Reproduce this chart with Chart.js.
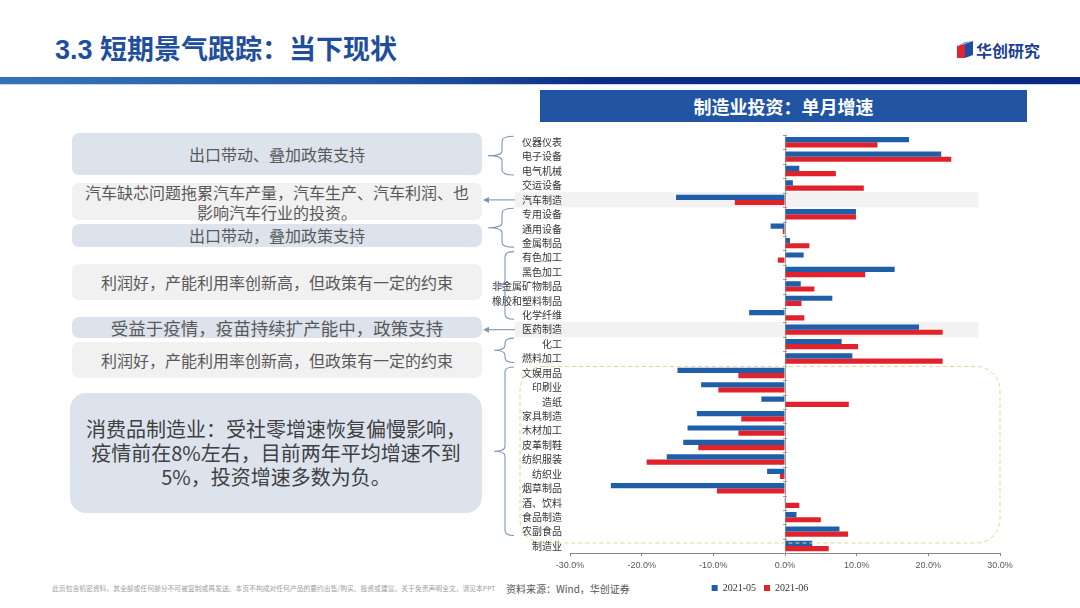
<!DOCTYPE html>
<html>
<head>
<meta charset="utf-8">
<script src="https://cdn.jsdelivr.net/npm/chart.js@4.4.1/dist/chart.umd.min.js"></script>
<style>
  html,body{margin:0;padding:0;background:#fff;}
  body{width:1080px;height:608px;position:relative;overflow:hidden;font-family:"Noto Sans CJK SC","Noto Sans",sans-serif;}
  .abs{position:absolute;}
  #title{left:55px;top:34px;font-size:27px;line-height:32px;font-weight:bold;color:#1f4e9c;font-family:"Liberation Sans","Noto Sans CJK SC",sans-serif;}
  #bar{left:0;top:77px;width:1080px;height:7px;background:linear-gradient(to right,#3373b9 0%,#2459a6 35%,#0c2d86 55%,#0a2a84 100%);}
  #bar2{left:0;top:84px;width:1080px;height:1px;background:#c9d7ea;}
  #logo{left:957px;top:40px;height:20px;}
  #logoText{left:976px;top:39px;font-size:16px;line-height:22px;font-weight:bold;color:#1d3f92;}
  #ctitle{left:540px;top:90px;width:487px;height:32px;background:#2155a3;color:#fff;font-size:18px;font-weight:bold;line-height:32px;text-align:center;}
  .box{position:absolute;left:72px;width:410px;display:flex;flex-direction:column;align-items:center;justify-content:center;text-align:center;color:#595959;font-size:16px;line-height:19px;border-radius:7px;}
  .box span{display:block;white-space:nowrap;}
  .bl{background:#dce3ed;}
  .gr{background:#f1f1f1;}
  #big{left:70px;top:393px;width:412px;height:120px;border-radius:16px;font-size:20px;line-height:24px;color:#404040;}
  #disc{left:52px;top:584px;font-size:6.8px;line-height:8px;color:#a0a0a0;white-space:nowrap;}
  #src{left:506px;top:582px;font-size:10px;line-height:14px;color:#555;white-space:nowrap;}
  #chartWrap{position:absolute;left:470px;top:128px;width:580px;height:480px;}
</style>
</head>
<body>
<div id="title" class="abs">3.3 短期景气跟踪：当下现状</div>
<div id="bar" class="abs"></div>
<div id="bar2" class="abs"></div>
<svg id="logo" class="abs" width="18" height="18" viewBox="0 0 18 18">
  <polygon points="0,5 8,3 8,17 0,17" fill="#e02430"/>
  <polygon points="8,3 16,0 16,14 8,17" fill="#1c4fa0"/>
  <polygon points="0,5 8,3 16,0 8,1" fill="#7aa0d6"/>
</svg>
<div id="logoText" class="abs">华创研究</div>
<div id="ctitle" class="abs">制造业投资：单月增速</div>

<div class="box bl" style="top:133px;height:42px;">出口带动、叠加政策支持</div>
<div class="box gr" style="top:183px;height:37px;line-height:20px;"><span>汽车缺芯问题拖累汽车产量，汽车生产、汽车利润、也</span><span>影响汽车行业的投资。</span></div>
<div class="box bl" style="top:224px;height:23px;">出口带动，叠加政策支持</div>
<div class="box gr" style="top:264px;height:36px;">利润好，产能利用率创新高，但政策有一定的约束</div>
<div class="box bl" style="top:317px;height:21px;font-size:17.5px;">受益于疫情，疫苗持续扩产能中，政策支持</div>
<div class="box gr" style="top:342px;height:36px;">利润好，产能利用率创新高，但政策有一定的约束</div>
<div id="big" class="box bl"><span>消费品制造业：受社零增速恢复偏慢影响，</span><span>疫情前在8%左右，目前两年平均增速不到</span><span>5%，投资增速多数为负。</span></div>

<div id="disc" class="abs">此页包含机密资料，其全部或任何部分不可被复制或再发送。本页不构成对任何产品的要约出售/购买、投资或建议。关于免责声明全文，请见本PPT</div>
<div id="src" class="abs">资料来源：Wind，华创证券</div>

<div id="chartWrap"><canvas id="c" width="580" height="480"></canvas></div>

<script>
const categories = ["仪器仪表","电子设备","电气机械","交运设备","汽车制造","专用设备","通用设备","金属制品","有色加工","黑色加工","非金属矿物制品","橡胶和塑料制品","化学纤维","医药制造","化工","燃料加工","文娱用品","印刷业","造纸","家具制造","木材加工","皮革制鞋","纺织服装","纺织业","烟草制品","酒、饮料","食品制造","农副食品","制造业"];
const may2021 = [17.3,21.8,2.0,1.1,-15.2,9.9,-2.0,0.7,2.6,15.3,2.2,6.6,-5.0,18.7,7.9,9.4,-15.0,-11.7,-3.3,-12.3,-13.6,-14.2,-16.5,-2.5,-24.3,-0.1,1.6,7.6,3.8];
const jun2021 = [12.9,23.2,7.1,11.0,-7.0,9.9,-0.3,3.4,-1.0,11.2,4.1,2.3,2.7,22.0,10.2,22.0,-6.5,-9.3,8.9,-6.1,-6.5,-12.1,-19.3,-0.7,-9.5,2.0,5.0,8.8,6.1];
const seriesNames = ["2021-05","2021-06"];
const xTicks = [-30,-20,-10,0,10,20,30];
const highlightRows = [4,13];
const braceGroups = [[0,2],[5,7],[8,12],[14,15],[16,27]];
const arrowRows = [4,13];

const decor = {
  id:'decor',
  beforeDraw(chart){
    const {ctx, chartArea, scales:{x,y}} = chart;
    if(!chartArea) return;
    const half = (y.getPixelForValue(1)-y.getPixelForValue(0))/2;
    ctx.save();
    ctx.fillStyle = '#f2f2f2';
    highlightRows.forEach(i=>{
      const cy = y.getPixelForValue(i);
      const x0 = chartArea.left-55, x1 = x.getPixelForValue(27);
      ctx.fillRect(x0, cy-half-0.5, x1-x0, half*2+1);
    });
    ctx.restore();
  },
  beforeDatasetsDraw(chart){
    const {ctx, scales:{x,y}} = chart;
    const half = (y.getPixelForValue(1)-y.getPixelForValue(0))/2;
    ctx.save();
    const zx = x.getPixelForValue(0);
    ctx.strokeStyle = '#999'; ctx.lineWidth = 1;
    ctx.beginPath();
    for(let i=0;i<=categories.length;i++){
      const yy = Math.round(y.getPixelForValue(i)-half)+0.5;
      ctx.moveTo(zx-2,yy); ctx.lineTo(zx+2,yy);
    }
    ctx.stroke();
    ctx.restore();
  },
  afterDatasetsDraw(chart){
    const {ctx, chartArea, scales:{x,y}} = chart;
    const L = chartArea.left;
    ctx.save();
    const top = y.getPixelForValue(16)-6.5, bot = y.getPixelForValue(28)-3;
    const rx0 = L-50, rx1 = chartArea.right, r = 24;
    ctx.strokeStyle = '#e8d48e'; ctx.lineWidth = 1; ctx.setLineDash([4,3]);
    ctx.beginPath();
    ctx.roundRect(rx0, top, rx1-rx0, bot-top, r);
    ctx.stroke();
    ctx.setLineDash([]);
    ctx.strokeStyle = '#7d97b6'; ctx.lineWidth = 1.1;
    braceGroups.forEach(([a,b],k)=>{
      const yt = y.getPixelForValue(a)-6, yb = y.getPixelForValue(b)+4, ym = (yt+yb)/2;
      const big = (k>=2);
      const xh = L-56, xv = big? L-65 : L-68, xt = big? L-76 : L-82;
      const rr = 5;
      ctx.beginPath();
      ctx.moveTo(xh, yt);
      ctx.quadraticCurveTo(xv, yt, xv, yt+rr);
      ctx.lineTo(xv, ym-rr);
      ctx.quadraticCurveTo(xv, ym, xt, ym);
      ctx.quadraticCurveTo(xv, ym, xv, ym+rr);
      ctx.lineTo(xv, yb-rr);
      ctx.quadraticCurveTo(xv, yb, xh, yb);
      ctx.stroke();
    });
    arrowRows.forEach(i=>{
      const cy = y.getPixelForValue(i);
      const x0 = L-55, x1 = L-87;
      ctx.beginPath(); ctx.moveTo(x0,cy); ctx.lineTo(x1+4,cy); ctx.stroke();
      ctx.fillStyle = '#7d97b6';
      ctx.beginPath(); ctx.moveTo(x1,cy); ctx.lineTo(x1+6,cy-3); ctx.lineTo(x1+6,cy+3); ctx.closePath(); ctx.fill();
    });
    ctx.restore();
  }
};

new Chart(document.getElementById('c'), {
  type:'bar',
  data:{
    labels:categories,
    datasets:[
      {label:seriesNames[0], data:may2021, backgroundColor:'#1f5ea9', barPercentage:1, categoryPercentage:0.72},
      {label:seriesNames[1], data:jun2021, backgroundColor:'#e2222b', barPercentage:1, categoryPercentage:0.72}
    ]
  },
  options:{
    indexAxis:'y',
    responsive:false,
    animation:false,
    devicePixelRatio:1,
    layout:{padding:{top:7,right:0,bottom:5,left:0}},
    plugins:{
      legend:{
        position:'bottom',
        labels:{boxWidth:6,boxHeight:6,padding:8,color:'#333',font:{family:'"Liberation Serif",serif',size:10}}
      },
      tooltip:{enabled:false}
    },
    scales:{
      x:{
        min:-30,max:30,
        afterBuildTicks(s){ s.ticks = xTicks.map(v=>({value:v})); },
        ticks:{color:'#595959',font:{family:'"Liberation Sans",sans-serif',size:9},padding:4,maxRotation:0,callback:v=>v.toFixed(1)+'%'},
        grid:{drawOnChartArea:true,color:c=>(c.tick && c.tick.value===0)?'#a0a0a0':'rgba(0,0,0,0)',tickColor:'#888',tickLength:3,lineWidth:1},
        border:{display:true,color:'#888'}
      },
      y:{
        afterFit(s){ s.width = 100; s.paddingTop = 0; s.paddingBottom = 0; },
        grid:{display:false,drawTicks:false},
        border:{display:false},
        ticks:{color:'#333',font:{family:'"Noto Sans CJK SC",sans-serif',size:10},padding:8,autoSkip:false}
      },
      yRight:{
        type:'category',
        position:'right',
        labels:categories,
        afterFit(s){ s.width = 50; s.paddingTop = 0; s.paddingBottom = 0; },
        grid:{display:false,drawTicks:false},
        border:{display:false},
        ticks:{display:false}
      }
    }
  },
  plugins:[decor]
});
</script>
</body>
</html>
